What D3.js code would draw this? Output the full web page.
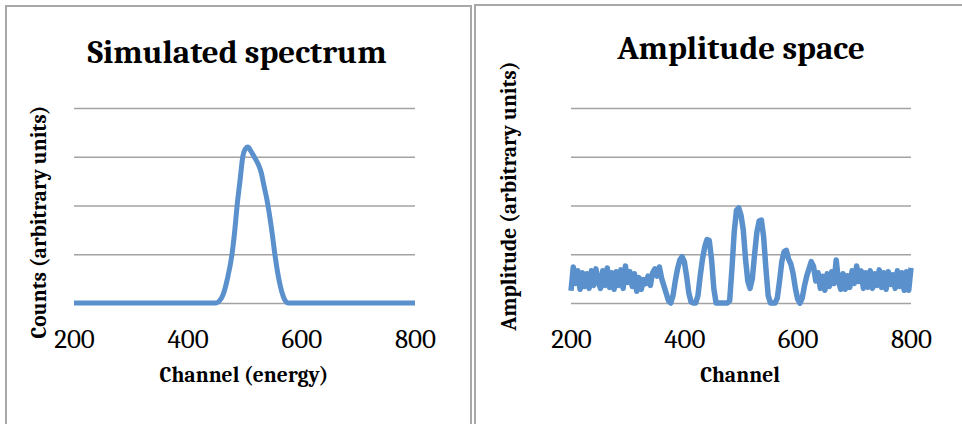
<!DOCTYPE html>
<html lang="en">
<head>
    <meta charset="UTF-8">
    <title>spectrum vs amplitude</title>
    <script src="https://d3js.org/d3.v7.min.js"></script>
<style>
    body{
        margin: 0;
        background: #fff;
    }
    svg text{
        font-family: Cambria, "Liberation Serif", serif;
        fill: #000;
    }
    .tick text{
        font-size: 27px;
    }
    .title{
        font-size: 33px;
        font-weight: bold;
    }
    .label{
        font-size: 21.5px;
        font-weight: bold;
    }
    .grid line{
        stroke: #a3a3a3;
        stroke-width: 1.5;
    }
</style>
</head>
<body>
<div id="fig"></div>
<script>
    // left panel: simulated spectrum (channel, counts)
    let specChannels = [200, 300, 400, 450, 455, 462, 470, 478, 483, 487, 492, 497, 502, 506, 511, 517, 524, 530, 534, 539, 543, 549, 554, 559, 563, 568, 572, 577, 600, 700, 800]
    let specCounts   = [0, 0, 0, 0, 0.03, 0.16, 0.5, 1.0, 1.5, 2.0, 2.5, 3.0, 3.17, 3.2, 3.12, 3.0, 2.85, 2.65, 2.42, 2.15, 1.88, 1.4, 0.95, 0.58, 0.35, 0.14, 0.04, 0, 0, 0, 0]

    // right panel: amplitude space, one value every 4 channels from 200 to 800
    let ampStart = 200, ampStep = 4
    let ampValues = [
        0.25, 0.74, 0.40, 0.66, 0.28, 0.62, 0.34, 0.60, 0.30, 0.66,
        0.36, 0.70, 0.45, 0.30, 0.66, 0.36, 0.72, 0.32, 0.62, 0.28,
        0.64, 0.36, 0.68, 0.30, 0.76, 0.42, 0.64, 0.34, 0.60, 0.24,
        0.52, 0.28, 0.48, 0.40, 0.55, 0.36, 0.62, 0.70, 0.55, 0.74,
        0.50, 0.35, 0.20, 0.05, 0.00, 0.15, 0.45, 0.70, 0.88, 0.95,
        0.85, 0.55, 0.20, 0.02, 0.00, 0.00, 0.15, 0.55, 0.90, 1.15,
        1.30, 1.28, 0.90, 0.30, 0.00, 0.00, 0.00, 0.00, 0.00, 0.00,
        0.05, 0.70, 1.45, 1.90, 1.95, 1.80, 1.50, 0.90, 0.45, 0.30,
        0.50, 1.00, 1.45, 1.68, 1.70, 1.35, 0.70, 0.15, 0.00, 0.00,
        0.00, 0.10, 0.45, 0.85, 1.05, 1.08, 0.90, 0.80, 0.60, 0.30,
        0.08, 0.00, 0.10, 0.35, 0.55, 0.70, 0.85, 0.75, 0.45, 0.62,
        0.30, 0.55, 0.26, 0.60, 0.34, 0.64, 0.40, 0.88, 0.45, 0.28,
        0.60, 0.28, 0.56, 0.32, 0.66, 0.40, 0.76, 0.44, 0.66, 0.30,
        0.62, 0.32, 0.66, 0.30, 0.60, 0.36, 0.68, 0.32, 0.62, 0.28,
        0.64, 0.38, 0.58, 0.30, 0.66, 0.34, 0.62, 0.26, 0.64, 0.26,
        0.72
    ]

    let xTicks = [200, 400, 600, 800]
    let yGrid = [0, 1, 2, 3, 4]

    let W = 962, H = 424
    let lineColor = "#5a90cc"

    let svg = d3.select("#fig").append("svg")
        .attr("width", W).attr("height", H)

    function panel(box, plot, series, txt, curve, lw)
    {
        let g = svg.append("g")
        g.append("rect")
            .attr("x", box.x).attr("y", box.y)
            .attr("width", box.w).attr("height", box.h)
            .attr("fill", "#fff")
            .attr("stroke", "#a8a8a8")
            .attr("stroke-width", 2)

        let xScale = d3.scaleLinear().domain([200, 800]).range([plot.x0, plot.x1])
        let yScale = d3.scaleLinear().domain([0, 4]).range([plot.y0, plot.y1])

        // horizontal gridlines
        g.append("g").attr("class", "grid")
            .attr("transform", `translate(${plot.x0},0)`)
            .call(d3.axisLeft(yScale).tickValues(yGrid).tickSize(-(plot.x1 - plot.x0)).tickFormat(""))
            .call(a => a.select(".domain").remove())

        // x tick labels only
        g.append("g").attr("class", "xaxis")
            .attr("transform", `translate(0,${plot.y0})`)
            .call(d3.axisBottom(xScale).tickValues(xTicks).tickSize(0).tickPadding(25.5).tickFormat(d3.format("d")))
            .call(a => a.attr("font-family", null).attr("font-size", null))
            .call(a => a.select(".domain").remove())

        let line = d3.line()
            .x(d => xScale(d[0]))
            .y(d => yScale(d[1]))
            .curve(curve)

        g.append("path")
            .datum(series)
            .attr("d", line)
            .attr("fill", "none")
            .attr("stroke", lineColor)
            .attr("stroke-width", lw)
            .attr("stroke-linejoin", "round")
            .attr("stroke-linecap", "butt")

        g.append("text").attr("class", "title")
            .attr("x", txt.tx).attr("y", txt.ty)
            .attr("text-anchor", "middle")
            .text(txt.title)

        g.append("text").attr("class", "label")
            .attr("x", txt.xx).attr("y", txt.xy)
            .attr("text-anchor", "middle")
            .text(txt.xlabel)

        g.append("text").attr("class", "label")
            .attr("transform", `translate(${txt.yx},${txt.yy}) rotate(-90)`)
            .attr("text-anchor", "middle")
            .text(txt.ylabel)
    }

    let specData = specChannels.map((c, i) => [c, specCounts[i]])
    let ampData = ampValues.map((v, i) => [ampStart + i * ampStep, v])

    panel({x: 6, y: 6, w: 465, h: 430},
          {x0: 74, x1: 415, y0: 303, y1: 108},
          specData,
          {title: "Simulated spectrum", tx: 237, ty: 63,
           xlabel: "Channel (energy)", xx: 244, xy: 382,
           ylabel: "Counts (arbitrary units)", yx: 46, yy: 222},
          d3.curveMonotoneX, 5)

    panel({x: 475, y: 5, w: 495, h: 430},
          {x0: 571, x1: 911, y0: 303, y1: 108},
          ampData,
          {title: "Amplitude space", tx: 741, ty: 59,
           xlabel: "Channel", xx: 740, xy: 382,
           ylabel: "Amplitude (arbitrary units)", yx: 516, yy: 196},
          d3.curveLinear, 5.5)
</script>
</body>
</html>
